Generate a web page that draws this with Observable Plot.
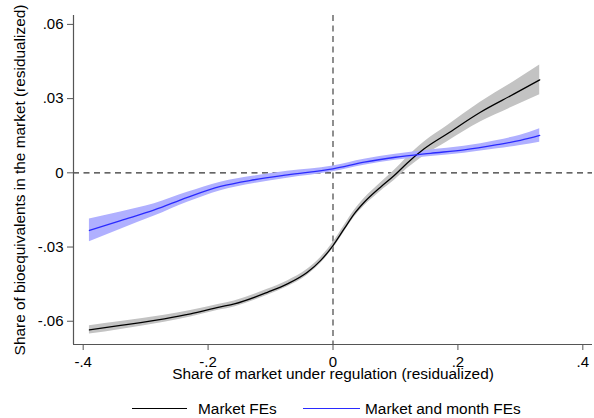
<!DOCTYPE html>
<html><head><meta charset="utf-8">
<script src="https://cdn.jsdelivr.net/npm/d3@7"></script>
<script src="https://cdn.jsdelivr.net/npm/@observablehq/plot@0.6"></script>
<style>
body{margin:0;background:#fff;font-family:"Liberation Sans",Arial,Helvetica,sans-serif;}
#wrap{position:relative;width:594px;height:418px;overflow:hidden;}
.lg-line{position:absolute;height:0;}
.lg-text{position:absolute;font-size:15.4px;line-height:18px;color:#000;white-space:nowrap;}
</style></head><body><div id="wrap"></div><script>
// Market FEs (black)
const xBlack  = [-0.39,-0.34,-0.27,-0.228,-0.182,-0.158,-0.105,-0.073,-0.041,-0.02,0,0.018,0.034,0.05,0.076,0.098,0.119,0.146,0.183,0.236,0.29,0.331];
const yBlack  = [-0.0635,-0.0617,-0.0590,-0.0570,-0.0543,-0.0530,-0.0483,-0.0449,-0.0402,-0.0355,-0.0294,-0.0226,-0.0166,-0.0119,-0.0058,-0.0011,0.0040,0.0097,0.0158,0.0245,0.0319,0.0376];
const loBlack = [-0.0652,-0.0633,-0.0604,-0.0583,-0.0555,-0.0542,-0.0495,-0.0461,-0.0414,-0.0367,-0.0306,-0.0239,-0.0180,-0.0134,-0.0075,-0.0031,0.0017,0.0069,0.0126,0.0205,0.0269,0.0316];
const hiBlack = [-0.0618,-0.0601,-0.0576,-0.0557,-0.0531,-0.0518,-0.0471,-0.0437,-0.0390,-0.0343,-0.0282,-0.0213,-0.0152,-0.0104,-0.0041,0.0009,0.0063,0.0125,0.0190,0.0285,0.0369,0.0436];
// Market and month FEs (blue)
const xBlue  = [-0.39,-0.34,-0.286,-0.233,-0.18,-0.126,-0.073,0,0.05,0.1,0.156,0.21,0.263,0.3,0.331];
const yBlue  = [-0.0233,-0.0193,-0.0150,-0.0099,-0.0055,-0.0028,-0.0008,0.0016,0.0043,0.0063,0.0079,0.0093,0.0114,0.0131,0.0151];
const loBlue = [-0.0279,-0.0228,-0.0175,-0.0119,-0.0072,-0.0043,-0.0022,0.0004,0.0031,0.0051,0.0066,0.0079,0.0097,0.0110,0.0124];
const hiBlue = [-0.0187,-0.0158,-0.0125,-0.0079,-0.0038,-0.0013,0.0006,0.0028,0.0055,0.0075,0.0092,0.0107,0.0131,0.0152,0.0178];

const xTicks = [-0.4,-0.2,0,0.2,0.4];
const yTicks = [-0.06,-0.03,0,0.03,0.06];
const seriesNames = ["Market FEs","Market and month FEs"];
const xTitle = "Share of market under regulation (residualized)";
const yTitle = "Share of bioequivalents in the market (residualized)";

const black = xBlack.map((x,i)=>({x, y:yBlack[i], lo:loBlack[i], hi:hiBlack[i]}));
const blue = xBlue.map((x,i)=>({x, y:yBlue[i], lo:loBlue[i], hi:hiBlue[i]}));

const stataFmt = (d, dec) => {
  if (Math.abs(d) < 1e-12) return "0";
  const s = Math.abs(d).toFixed(dec).replace(/^0/, "");
  return (d < 0 ? "-" : "") + s;
};
const fmtY = d => stataFmt(d, 2);
const fmtX = d => stataFmt(d, 1);

const xDomain = [-0.4155, 0.4155];
const yDomain = [-0.0694, 0.0636];
const font = '"Liberation Sans", Arial, Helvetica, sans-serif';

const chart = Plot.plot({
  width: 594, height: 392,
  marginLeft: 73, marginRight: 2, marginTop: 15, marginBottom: 48,
  style: {fontFamily: font, fontSize: "15px", background: "#fff", color: "#000"},
  x: {domain: xDomain},
  y: {domain: yDomain},
  marks: [
    Plot.ruleY([0], {stroke: "#333", strokeWidth: 1.1, strokeDasharray: "6,4.5"}),
    Plot.ruleX([0], {stroke: "#333", strokeWidth: 1.1, strokeDasharray: "6,4.5"}),
    Plot.areaY(black, {x: "x", y1: "lo", y2: "hi", fill: "#c3c3c3", curve: "monotone-x"}),
    Plot.areaY(blue, {x: "x", y1: "lo", y2: "hi", fill: "#b0b0ff", curve: "monotone-x"}),
    Plot.lineY(black, {x: "x", y: "y", stroke: "#000", strokeWidth: 1.3, curve: "monotone-x"}),
    Plot.lineY(blue, {x: "x", y: "y", stroke: "#2a2aff", strokeWidth: 1.3, curve: "monotone-x"}),
    Plot.axisY({ticks: yTicks, tickFormat: fmtY, tickSize: 6, tickPadding: 4, label: null, stroke: "#555", fill: "#000", fontSize: 15}),
    Plot.axisX({ticks: xTicks, tickFormat: fmtX, tickSize: 6, tickPadding: 6, label: null, stroke: "#555", fill: "#000", fontSize: 15}),
    Plot.ruleX([xDomain[0]], {stroke: "#555", strokeWidth: 1.2}),
    Plot.ruleY([yDomain[0]], {stroke: "#555", strokeWidth: 1.2}),
    Plot.text([yTitle], {frameAnchor: "left", textAnchor: "middle", rotate: -90, dx: -53, fontSize: 15.4, fill: "#000"}),
    Plot.text([xTitle], {frameAnchor: "bottom", textAnchor: "middle", dy: 34, fontSize: 15.4, fill: "#000"})
  ]
});
const wrap = document.getElementById("wrap");
wrap.appendChild(chart);

// legend below the plot
const legendItems = [
  {name: seriesNames[0], color: "#000", x1: 132, x2: 187, tx: 198},
  {name: seriesNames[1], color: "#2a2aff", x1: 303, x2: 360, tx: 365}
];
for (const it of legendItems) {
  const l = document.createElement("div");
  l.className = "lg-line";
  l.style.left = it.x1 + "px";
  l.style.width = (it.x2 - it.x1) + "px";
  l.style.top = "408px";
  l.style.borderTop = "1.3px solid " + it.color;
  wrap.appendChild(l);
  const t = document.createElement("div");
  t.className = "lg-text";
  t.style.left = it.tx + "px";
  t.style.top = "400px";
  t.textContent = it.name;
  wrap.appendChild(t);
}
</script></body></html>
